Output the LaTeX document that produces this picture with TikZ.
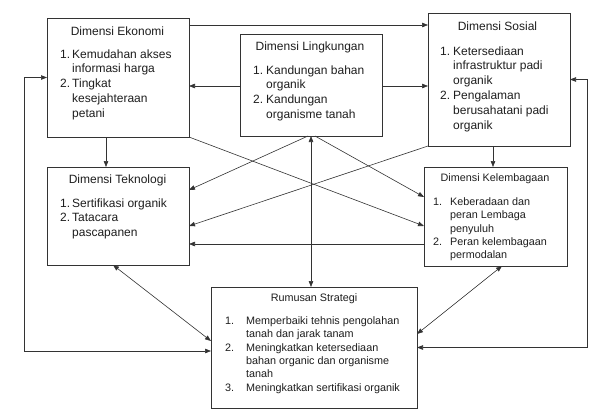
\documentclass[tikz,border=0pt]{standalone}
\usepackage{fontspec}
\setmainfont{Liberation Sans}
\usetikzlibrary{arrows.meta,calc}
\definecolor{linec}{HTML}{333333}
\definecolor{txtc}{HTML}{1E1E1E}
\newcommand{\nb}[2]{\makebox[#1][l]{#2}}
\begin{document}
\begin{tikzpicture}[x=1pt,y=-1pt,
  >={Triangle[length=6pt,width=4.5pt]},
  box/.style={draw=linec, line width=0.8pt, inner sep=0pt, outer sep=0pt},
  conn/.style={draw=linec, line width=0.6pt, ->},
  dconn/.style={draw=linec, line width=0.6pt, <->},
  big/.style={font=\fontsize{12}{14.8}\selectfont},
  small/.style={font=\fontsize{10.8}{13.3}\selectfont},
  ttl/.style={anchor=base, inner sep=0pt, text=txtc},
  lst/.style={anchor=base west, inner sep=0pt, text=txtc}]
\useasboundingbox (0,0) rectangle (605,410);
\fill[white] (0,0) rectangle (605,410);
% boxes
\node[box, minimum width=142pt, minimum height=119pt] (eko) at (118,77.5) {};
\node[box, minimum width=142pt, minimum height=102pt] (ling) at (311,85) {};
\node[box, minimum width=142pt, minimum height=133pt] (sos) at (499,79.5) {};
\node[box, minimum width=142pt, minimum height=98pt] (tek) at (118,216) {};
\node[box, minimum width=143pt, minimum height=99pt] (kel) at (495.5,216.5) {};
\node[box, minimum width=206pt, minimum height=121pt] (rum) at (314,347.5) {};
% titles
\node[ttl, big] (ekoT) at (117.5,35) {Dimensi Ekonomi};
\node[ttl, big] (lingT) at (310,50) {Dimensi Lingkungan};
\node[ttl, big] (sosT) at (497.5,30) {Dimensi Sosial};
\node[ttl, big] (tekT) at (117.5,183) {Dimensi Teknologi};
\node[ttl, small] (kelT) at (495,181.5) {Dimensi Kelembagaan};
\node[ttl, small] (rumT) at (314,301.5) {Rumusan Strategi};
% lists
\node[lst, big] (ekoL) at (60,58) {\begin{tabular}[t]{@{}l@{}}
\nb{12pt}{1.}Kemudahan akses\\ \hspace*{12pt}informasi harga\\
\nb{12pt}{2.}Tingkat\\ \hspace*{12pt}kesejahteraan\\ \hspace*{12pt}petani\end{tabular}};
\node[lst, big] (lingL) at (253,74) {\begin{tabular}[t]{@{}l@{}}
\nb{13pt}{1.}Kandungan bahan\\ \hspace*{13pt}organik\\
\nb{13pt}{2.}Kandungan\\ \hspace*{13pt}organisme tanah\end{tabular}};
\node[lst, big] (sosL) at (440,55) {\begin{tabular}[t]{@{}l@{}}
\nb{13pt}{1.}Ketersediaan\\ \hspace*{13pt}infrastruktur padi\\ \hspace*{13pt}organik\\
\nb{13pt}{2.}Pengalaman\\ \hspace*{13pt}berusahatani padi\\ \hspace*{13pt}organik\end{tabular}};
\node[lst, big] (tekL) at (60,207) {\begin{tabular}[t]{@{}l@{}}
\nb{12pt}{1.}Sertifikasi organik\\
\nb{12pt}{2.}Tatacara\\ \hspace*{12pt}pascapanen\end{tabular}};
\node[lst, small] (kelL) at (433,205.5) {\begin{tabular}[t]{@{}l@{}}
\nb{17pt}{1.}Keberadaan dan\\ \hspace*{17pt}peran Lembaga\\ \hspace*{17pt}penyuluh\\
\nb{17pt}{2.}Peran kelembagaan\\ \hspace*{17pt}permodalan\end{tabular}};
\node[lst, small] (rumL) at (225,324.5) {\begin{tabular}[t]{@{}l@{}}
\nb{21pt}{1.}Memperbaiki tehnis pengolahan\\ \hspace*{21pt}tanah dan jarak tanam\\
\nb{21pt}{2.}Meningkatkan ketersediaan\\ \hspace*{21pt}bahan organic dan organisme\\ \hspace*{21pt}tanah\\
\nb{21pt}{3.}Meningkatkan sertifikasi organik\end{tabular}};
% helper coordinates
\coordinate (a1) at ($(eko.north east)+(0,7)$);
\coordinate (a2) at ($(ling.west)+(0,1)$);
\coordinate (a3) at ($(eko.south)+(-12,0)$);
\coordinate (a4) at ($(sos.south)+(-6,0)$);
\coordinate (lx) at (24,0);
\coordinate (rx) at (587,0);
\coordinate (a10) at ($(rum.west)+(0,3.5)$);
\coordinate (l1) at ($(ling.south)+(-3,0)$);
\coordinate (l2) at ($(ling.south)+(4,0)$);
\coordinate (t1) at ($(tek.east)+(0,-26)$);
\coordinate (t2) at ($(tek.east)+(0,10)$);
\coordinate (k1) at ($(kel.west)+(0,-19.5)$);
\coordinate (k2) at ($(kel.west)+(0,9.5)$);
\coordinate (k3) at ($(kel.west)+(0,27.5)$);
\coordinate (t3) at ($(tek.south)+(-5,0)$);
\coordinate (r1) at ($(rum.west)+(0,-6.5)$);
\coordinate (k4) at ($(kel.south)+(6.5,0)$);
\coordinate (r2) at ($(rum.east)+(0,-13.5)$);
% connectors
\draw[conn] (a1) -- (a1 -| sos.west);
\draw[conn] (a2) -- (a2 -| eko.east);
\draw[conn] (a2 -| ling.east) -- (a2 -| sos.west);
\draw[conn] (a3) -- (a3 |- tek.north);
\draw[conn] (a4) -- (a4 |- kel.north);
\draw[dconn] (eko.west) -- (eko.west -| lx) |- (a10);
\draw[dconn] (sos.east) -- (sos.east -| rx) |- (rum.east);
\draw[conn] (l1) -- (t1);
\draw[conn] (l2) -- (k1);
\draw[conn] (eko.south east) -- (k2);
\draw[conn] (sos.south west) -- (t2);
\draw[conn] (k3) -- (k3 -| tek.east);
\draw[dconn] (ling.south) -- (ling.south |- rum.north);
\draw[dconn] (t3) -- (r1);
\draw[dconn] (k4) -- (r2);
\end{tikzpicture}
\end{document}
